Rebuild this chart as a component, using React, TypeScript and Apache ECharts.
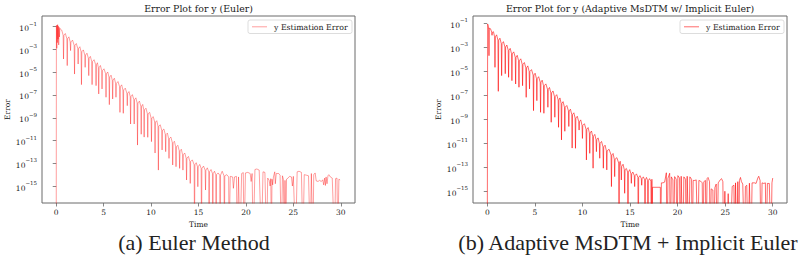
import React, { useEffect, useRef } from "react";
import * as echarts from "echarts";

// log10(error); ZERO marks an exactly-zero error (drops off the log axis)
const ZERO = -20;

const eulerTime = [
  0, 0.02, 0.06, 0.09, 0.12, 0.15, 0.19, 0.22, 0.26, 0.3, 0.34, 0.38, 0.58,
  0.73, 0.77, 0.81, 0.96, 1.12, 1.16, 1.2, 1.34, 1.47, 1.51, 1.55, 1.72, 1.89, 1.93, 1.97, 2.12,
  2.27, 2.31, 2.35, 2.49, 2.62, 2.66, 2.7, 2.86, 3.01, 3.05, 3.09, 3.24, 3.39, 3.43, 3.47, 3.6,
  3.74, 3.78, 3.82, 3.99, 4.16, 4.2, 4.24, 4.34, 4.44, 4.48, 4.52, 4.66, 4.79, 4.83, 4.87, 5.04,
  5.21, 5.25, 5.29, 5.43, 5.56, 5.6, 5.64, 5.78, 5.91, 5.95, 5.99, 6.13, 6.26, 6.3, 6.34, 6.51,
  6.68, 6.72, 6.76, 6.9, 7.03, 7.07, 7.11, 7.28, 7.45, 7.49, 7.53, 7.67, 7.8, 7.84, 7.88, 8.03,
  8.18, 8.22, 8.26, 8.4, 8.53, 8.57, 8.61, 8.77, 8.92, 8.96, 9.0, 9.12, 9.23, 9.27, 9.31, 9.46,
  9.61, 9.65, 9.69, 9.85, 10.0, 10.04, 10.08, 10.23, 10.38, 10.42, 10.46, 10.6, 10.73, 10.77, 10.81, 10.97,
  11.12, 11.16, 11.2, 11.35, 11.5, 11.54, 11.58, 11.72, 11.85, 11.89, 11.93, 12.09, 12.24, 12.28, 12.32, 12.46,
  12.59, 12.63, 12.67, 12.82, 12.97, 13.01, 13.05, 13.19, 13.32, 13.36, 13.4, 13.55, 13.7, 13.74, 13.78, 13.94,
  14.09, 14.13, 14.17, 14.35, 14.54, 14.58, 14.62, 14.76, 14.89, 14.93, 14.97, 15.13, 15.28, 15.32, 15.36, 15.53,
  15.7, 15.74, 15.78, 15.93, 16.08, 16.12, 16.16, 16.32, 16.47, 16.51, 16.55, 16.69, 16.82, 16.86, 16.9, 17.07,
  17.24, 17.28, 17.32, 17.5, 17.69, 17.73, 17.77, 17.98, 18.18, 18.22,
  18.35, 18.6, 18.68, 18.8, 19.0, 19.08, 19.22, 19.37, 19.55, 19.72, 19.8, 19.95, 20.2, 20.45,
  20.55, 20.65, 20.77, 20.95, 21.15, 21.4, 21.64, 21.8, 22.0, 22.17, 22.3, 22.45, 22.55, 22.62,
  22.69, 22.75, 22.82, 22.9, 23.04, 23.1, 23.2, 23.45, 23.6, 23.74, 23.85, 23.95, 24.05, 24.12,
  24.2, 24.28, 24.44, 24.6, 24.8, 24.9, 25.0, 25.24, 25.4, 25.6, 25.85, 26.01, 26.15, 26.4, 26.6,
  26.78, 26.9, 27.06, 27.15, 27.3, 27.41, 27.6, 27.76, 27.95, 28.1, 28.2, 28.3, 28.38, 28.45,
  28.55, 28.65, 28.74, 28.9, 29.1, 29.34, 29.45, 29.6, 29.69, 29.8, 29.93,
];
const eulerLogErr = [
  ZERO, -0.9, -2.9, -0.85, -2.4, -0.82, -2.1, -0.95, -2.6, -1.05, -1.9, -1.15, -1.3,
  -1.75, -3.84, -1.75, -1.6, -2.05, -4.42, -2.05, -1.89, -2.34, -3.1, -2.34, -2.18, -2.63, -5.16, -2.63, -2.48,
  -2.92, -4.28, -2.92, -2.76, -3.2, -6.09, -3.2, -3.04, -3.49, -4.57, -3.49, -3.33, -3.77, -5.3, -3.77, -3.61,
  -4.06, -6.09, -4.06, -3.9, -4.34, -6.18, -4.34, -4.17, -4.59, -6.91, -4.59, -4.41, -4.86, -6.47, -4.86, -4.7,
  -5.14, -7.2, -5.14, -4.98, -5.42, -7.85, -5.42, -5.26, -5.7, -7.35, -5.7, -5.53, -5.98, -7.2, -5.98, -5.82,
  -6.27, -8.53, -6.27, -6.11, -6.56, -8.61, -6.56, -6.4, -6.85, -7.94, -6.85, -6.7, -7.14, -9.55, -7.14, -6.97,
  -7.41, -9.55, -7.41, -7.25, -7.7, -11.4, -7.7, -7.54, -7.99, -10.45, -7.99, -7.83, -8.3, -10.7, -8.3, -8.16,
  -8.65, -10.72, -8.65, -8.53, -9.02, -11.1, -9.02, -8.9, -9.38, -12.1, -9.38, -9.26, -9.74, -13.6, -9.74, -9.62,
  -10.1, -11.83, -10.1, -9.99, -10.47, -11.98, -10.47, -10.35, -10.83, -12.57, -10.83, -10.7, -11.19, -13.15, -11.19, -11.07,
  -11.55, -13.3, -11.55, -11.42, -11.9, -13.45, -11.9, -11.77, -12.24, -13.6, -12.24, -12.1, -12.55, -14.47, -12.55, -12.4,
  -12.85, -14.77, -12.85, -12.7, -13.13, ZERO, -13.13, -12.95, -13.3, -15.06, -13.3, -13.1, -13.45, ZERO, -13.45, -13.25,
  -13.6, -15.35, -13.6, -13.4, -13.75, ZERO, -13.75, -13.55, -13.9, ZERO, -13.9, -13.7, -14.0, ZERO, -14.0, -13.85,
  -14.05, ZERO, -14.05, -13.7, -14.1, ZERO, -14.1, -14.0, -14.2, ZERO,
  -14.15, -14.2, -15.2, -14.2, -14.15, ZERO, -14.2, ZERO, -13.9, -13.82, ZERO, -13.85, -13.8, -13.9,
  -14.6, -13.9, ZERO, -13.55, -13.5, -13.6, ZERO, -13.75, -13.8, ZERO, -14.3, -14.5, -15.0, -14.35,
  ZERO, -14.4, -14.9, -14.2, -13.75, -14.8, -13.9, -13.9, -14.05, ZERO, -14.1, -14.4, ZERO, -14.5,
  ZERO, -14.4, -14.3, -14.15, -14.2, -15.0, -14.15, ZERO, -13.75, -13.7, -13.8, ZERO, -14.0, -14.05, -14.1,
  ZERO, -13.9, ZERO, -14.0, -13.85, -14.55, -14.6, -14.5, -14.6, -14.45, -14.9, -14.3, -14.95, -14.2,
  -14.8, -14.1, -14.0, -14.2, -14.3, ZERO, -14.35, -14.3, ZERO, -14.4, -14.47,
];

const msdtmTime = [
  0, 0.04, 0.1, 0.15, 0.18, 0.21, 0.34, 0.47, 0.5, 0.53, 0.65,
  0.77, 0.81, 0.85, 0.98, 1.12, 1.16, 1.2, 1.33, 1.47, 1.51, 1.55, 1.7, 1.85, 1.89, 1.93, 2.06,
  2.2, 2.24, 2.28, 2.41, 2.55, 2.59, 2.63, 2.78, 2.94, 2.98, 3.02, 3.15, 3.29, 3.33, 3.37, 3.52,
  3.67, 3.71, 3.75, 3.9, 4.05, 4.09, 4.13, 4.26, 4.4, 4.44, 4.48, 4.65, 4.82, 4.86, 4.9, 5.03,
  5.17, 5.21, 5.25, 5.4, 5.56, 5.6, 5.64, 5.77, 5.91, 5.95, 5.99, 6.16, 6.33, 6.37, 6.41, 6.54,
  6.68, 6.72, 6.76, 6.91, 7.06, 7.1, 7.14, 7.3, 7.45, 7.49, 7.53, 7.64, 7.76, 7.8, 7.84, 7.97,
  8.11, 8.15, 8.19, 8.36, 8.53, 8.57, 8.61, 8.74, 8.88, 8.92, 8.96, 9.1, 9.23, 9.27, 9.31, 9.46,
  9.61, 9.65, 9.69, 9.82, 9.96, 10.0, 10.04, 10.21, 10.38, 10.42, 10.46, 10.6, 10.73, 10.77, 10.81, 10.95,
  11.08, 11.12, 11.16, 11.3, 11.43, 11.47, 11.51, 11.65, 11.78, 11.82, 11.86, 12.01, 12.16, 12.2, 12.24, 12.38,
  12.52, 12.56, 12.6, 12.8, 13.01, 13.05, 13.09, 13.22, 13.35, 13.39, 13.43, 13.62, 13.81, 13.85, 13.89, 13.97,
  14.05, 14.09, 14.13, 14.27, 14.4, 14.44, 14.48, 14.62, 14.75, 14.79, 14.83, 14.97, 15.1, 15.14, 15.18, 15.3,
  15.45, 15.49, 15.53, 15.68, 15.83, 15.87, 15.91, 16.05, 16.19, 16.23, 16.27, 16.4, 16.54, 16.58, 16.62, 16.73,
  16.85, 16.89, 16.93, 17.06, 17.2, 17.24,
  17.3, 17.34, 17.36, 18.19, 18.2, 18.3, 18.47, 18.64, 18.82, 18.89, 18.99, 19.17, 19.24, 19.34,
  19.51, 19.58, 19.69, 19.86, 19.93, 20.03, 20.21, 20.28, 20.38, 20.56, 20.66, 20.84, 20.91, 21.01,
  21.19, 21.29, 21.47, 21.54, 21.64, 21.82, 21.96, 22.13, 22.24, 22.41, 22.59, 22.66, 22.76, 22.93,
  23.0, 23.1, 23.2, 23.36, 23.43, 23.53, 23.71, 23.78, 23.92, 24.06, 24.16, 24.27, 24.48, 24.62,
  24.76, 24.83, 24.97, 25.11, 25.32, 25.53, 25.74, 25.92, 25.99, 26.09, 26.23, 26.33, 26.44, 26.5,
  26.61, 26.71, 26.85, 27.03, 27.13, 27.27, 27.41, 27.55, 27.72, 27.83, 28.08, 28.25, 28.43, 28.53,
  28.67, 28.78, 28.88, 29.06, 29.23, 29.3, 29.44, 29.64, 29.82, 29.92, 30.0,
];
const msdtmLogErr = [
  ZERO, -1.06, -1.2, -1.5, -3.7, -1.4, -1.45, -1.75, -2.0, -1.75, -1.7,
  -2.13, -4.67, -2.13, -1.96, -2.4, -6.67, -2.4, -2.24, -2.69, -5.36, -2.69, -2.53, -2.97, -5.2, -2.97, -2.81,
  -3.25, -5.5, -3.25, -3.09, -3.54, -5.78, -3.54, -3.38, -3.83, -6.06, -3.83, -3.67, -4.12, -6.33, -4.12, -3.96,
  -4.42, -6.2, -4.42, -4.27, -4.71, -7.17, -4.71, -4.55, -5.01, -6.47, -5.01, -4.86, -5.31, -8.28, -5.31, -5.16,
  -5.61, -7.45, -5.61, -5.45, -5.9, -8.42, -5.9, -5.74, -6.2, -8.5, -6.2, -6.05, -6.5, -8.0, -6.5, -6.35,
  -6.8, -9.25, -6.8, -6.64, -7.1, -8.83, -7.1, -6.95, -7.39, -9.67, -7.39, -7.22, -7.68, -10.72, -7.68, -7.53,
  -7.99, -10.0, -7.99, -7.85, -8.3, -9.6, -8.3, -8.16, -8.61, -11.4, -8.61, -8.46, -8.9, -11.42, -8.9, -8.75,
  -9.2, -9.9, -9.2, -9.05, -9.51, -10.6, -9.51, -9.37, -9.83, -12.39, -9.83, -9.69, -10.14, -11.84, -10.14, -9.98,
  -10.42, -13.08, -10.42, -10.26, -10.7, -11.7, -10.7, -10.55, -11.0, -12.25, -11.0, -10.85, -11.3, -13.08, -11.3, -11.16,
  -11.63, -13.22, -11.63, -11.5, -11.98, -14.61, -11.98, -11.85, -12.33, -13.78, -12.33, -12.2, -12.65, ZERO, -12.65, -12.5,
  -12.93, -14.06, -12.93, -12.75, -13.2, -15.17, -13.2, -13.1, -13.4, ZERO, -13.4, -13.2, -13.55, -14.34, -13.55, -13.4,
  -13.7, -14.61, -13.7, -13.55, -13.85, ZERO, -13.85, -13.7, -13.95, -14.5, -13.95, -13.8, -14.05, ZERO, -14.05, -13.85,
  -14.1, ZERO, -14.1, -13.95, -14.2, ZERO,
  -14.0, ZERO, -14.67, -14.67, ZERO, -14.3, -14.3, -14.24, -13.46, ZERO, -13.92, -13.5, ZERO, -13.8,
  -14.05, ZERO, -13.78, -14.0, ZERO, -13.7, -13.9, ZERO, -13.75, ZERO, -13.8, -14.0, ZERO, -13.75,
  ZERO, -13.8, -14.0, ZERO, -14.1, -14.1, -14.05, ZERO, -14.1, -14.15, -14.3, ZERO, -14.2, -14.1,
  ZERO, -13.95, -13.85, -14.2, ZERO, -14.8, -14.9, ZERO, -14.7, -14.4, ZERO, -14.3, -14.05, -13.95,
  -14.2, ZERO, -15.0, ZERO, -15.2, ZERO, -14.6, -14.5, ZERO, -14.3, ZERO, -14.2, ZERO, -14.1,
  -13.85, -14.2, -14.4, ZERO, -14.6, -14.5, ZERO, -14.33, ZERO, -14.3, -14.3, -14.35, -13.9, -13.75,
  -14.1, ZERO, -14.3, -14.35, -14.3, ZERO, -14.35, -14.35, ZERO, -14.3, -13.9,
];

const xTicks = [0, 5, 10, 15, 20, 25, 30];
const yTickExponents = [-15, -13, -11, -9, -7, -5, -3, -1];
const titles = ["Error Plot for y (Euler)", "Error Plot for y (Adaptive MsDTM w/ Implicit Euler)"];
const captions = ["(a) Euler Method", "(b) Adaptive MsDTM + Implicit Euler"];
const legendLabel = "y Estimation Error";
const xName = "Time";
const yName = "Error";

const SERIF = "DejaVu Serif";
const CAPTION_FONT = "Liberation Serif";
const FRAME = "#6a6a6a";
const TEXT = "#1a1a1a";

const grids = [
  { left: 42, top: 16, width: 313, height: 187, yMin: -16.49, yMax: -0.06, color: "rgba(255,0,0,0.38)", capX: 194 },
  { left: 473, top: 16, width: 314, height: 187, yMin: -15.98, yMax: -0.39, color: "rgba(255,0,0,0.58)", capX: 628 },
];

function buildOption() {
  const xAxis = grids.map((g, i) => ({
    type: "value",
    gridIndex: i,
    min: -1.5,
    max: 31.5,
    axisLine: { show: false },
    splitLine: { show: false },
    axisTick: { show: true, customValues: xTicks, length: 3.5, lineStyle: { color: FRAME, width: 0.8 } },
    axisLabel: {
      customValues: xTicks,
      fontFamily: SERIF,
      fontSize: 7.5,
      color: TEXT,
      margin: 5,
    },
    name: xName,
    nameLocation: "middle",
    nameGap: 14,
    nameTextStyle: { fontFamily: SERIF, fontSize: 7.5, color: TEXT },
  }));
  const yAxis = grids.map((g, i) => ({
    type: "value",
    gridIndex: i,
    min: g.yMin,
    max: g.yMax,
    axisLine: { show: false },
    splitLine: { show: false },
    axisTick: { show: true, customValues: yTickExponents, length: 3.5, lineStyle: { color: FRAME, width: 0.8 } },
    axisLabel: {
      customValues: yTickExponents,
      margin: 5,
      formatter: (v: number) => `{b|10}{s|\u2212${Math.round(-v)}}`,
      rich: {
        b: { fontFamily: SERIF, fontSize: 7.5, color: TEXT, lineHeight: 12, verticalAlign: "bottom" },
        s: { fontFamily: SERIF, fontSize: 5.5, color: TEXT, lineHeight: 6, verticalAlign: "top" },
      },
    },
    name: yName,
    nameLocation: "middle",
    nameRotate: 90,
    nameGap: 28,
    nameTextStyle: { fontFamily: SERIF, fontSize: 7.5, color: TEXT },
  }));
  const datasets = [
    eulerTime.map((t, i) => [t, eulerLogErr[i]]),
    msdtmTime.map((t, i) => [t, msdtmLogErr[i]]),
  ];
  const series = grids.map((g, i) => ({
    type: "line",
    xAxisIndex: i,
    yAxisIndex: i,
    data: datasets[i],
    symbol: "none",
    showSymbol: false,
    clip: true,
    silent: true,
    lineStyle: { color: g.color, width: 1 },
  }));

  const title: any[] = [];
  const graphic: any[] = [];
  grids.forEach((g, i) => {
    const cx = g.left + g.width / 2;
    title.push({
      text: titles[i],
      left: cx,
      top: 4,
      textAlign: "center",
      padding: 0,
      textStyle: { fontFamily: SERIF, fontSize: 9.4, fontWeight: "normal", color: TEXT },
    });
    title.push({
      text: captions[i],
      left: g.capX,
      top: 230,
      textAlign: "center",
      padding: 0,
      textStyle: { fontFamily: CAPTION_FONT, fontSize: 22, fontWeight: "normal", color: "#222", lineHeight: 24 },
    });
    const lx = g.left + g.width - 107;
    graphic.push({
      type: "rect",
      shape: { x: lx, y: 20, width: 104, height: 13.5, r: 2 },
      style: { fill: "rgba(255,255,255,0.8)", stroke: "#d4d4d4", lineWidth: 0.8 },
    });
    graphic.push({
      type: "line",
      shape: { x1: lx + 4, y1: 26.8, x2: lx + 19, y2: 26.8 },
      style: { stroke: g.color, lineWidth: 1 },
    });
    graphic.push({
      type: "text",
      x: lx + 26,
      y: 27,
      style: { text: legendLabel, fontFamily: SERIF, fontSize: 7.8, fill: TEXT, textVerticalAlign: "middle" },
    });
  });

  return {
    animation: false,
    backgroundColor: "#ffffff",
    title,
    grid: grids.map((g) => ({
      left: g.left,
      top: g.top,
      width: g.width,
      height: g.height,
      show: true,
      borderColor: FRAME,
      borderWidth: 1,
      backgroundColor: "transparent",
      containLabel: false,
    })),
    xAxis,
    yAxis,
    series,
    graphic,
  };
}

export default function App() {
  const ref = useRef<HTMLDivElement>(null);
  useEffect(() => {
    if (!ref.current) return;
    const chart = echarts.init(ref.current, null, { renderer: "svg" });
    chart.setOption(buildOption() as any);
    return () => chart.dispose();
  }, []);
  return (
    <div
      ref={ref}
      style={{ position: "absolute", left: 0, top: 0, width: 803, height: 269, background: "#fff" }}
    />
  );
}
